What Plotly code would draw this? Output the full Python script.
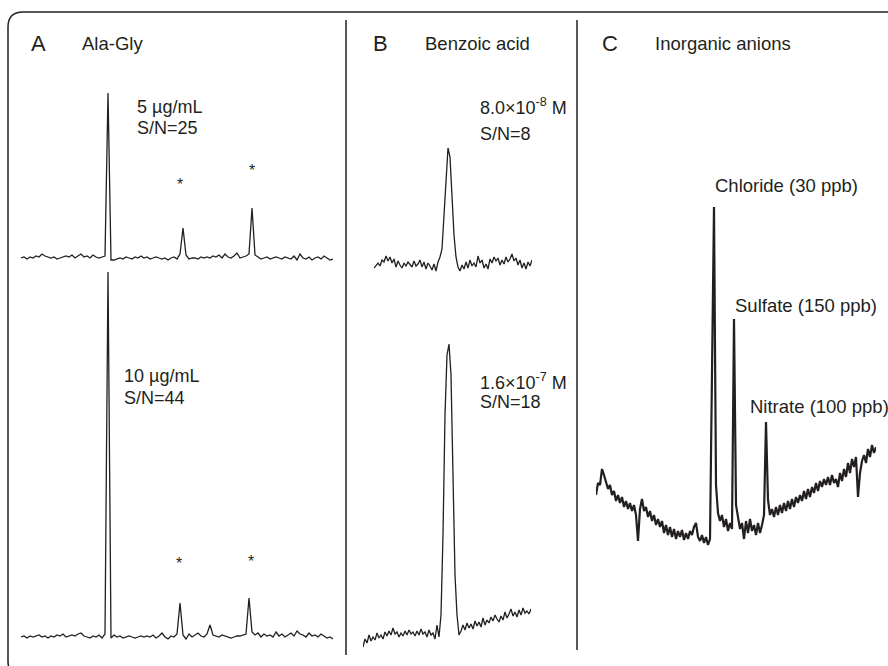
import plotly.graph_objects as go

# ---------------- data (signal heights above baseline, arbitrary units) ----------------
ala_gly_5 = [
    0, 1, -1, 1, 0, 2, 1, 4, 2, 1,
    0, 1, -1, 0, 1, 2, 1, 3, 0, 2,
    4, 1, 2, 0, 3, 1, 0, 1, 2, 165,
    -2, -2, -1, 0, -1, 1, 0, -1, 1, 0,
    2, 0, 1, -1, 0, 1, 0, -1, 0, -2,
    0, 1, -1, 4, 30, 3, -1, 0, 0, -1,
    1, 0, 1, 0, 2, 1, 3, 0, 4, 1,
    0, 2, 5, 0, 1, 2, 4, 50, 3, 1,
    -1, 0, 1, -1, 0, 1, 0, -1, 1, 0,
    -1, 2, -2, 4, 0, -1, 1, -2, 0, 1,
    -1, 2, 0, -2, -1,
]
ala_gly_10 = [
    0, 1, -1, 1, 0, 1, 2, 0, 1, -1,
    1, 0, 2, 1, 3, 0, 1, 2, 1, 3,
    4, 1, 0, -1, 1, 0, 2, -1, 3, 365,
    -1, 2, 0, 1, -1, 0, 1, 0, -1, 0,
    1, 0, 1, 0, 2, -1, 1, 4, 0, -2,
    1, 0, 3, 34, 2, -2, 3, 0, 2, 4,
    1, 0, 3, 12, 2, 1, 0, 2, 1, 0,
    -1, 0, 1, 1, 2, 3, 39, 5, 2, 4,
    0, 3, 1, 2, 0, 5, 1, 3, 0, 2,
    4, 1, 6, 3, 2, 0, 4, 1, 2, 0,
    3, 1, -1, 0, -2,
]
benzoic_8e8 = [
    -3, 0, 2, -1, 5, 3, 9, 4, 8, 2,
    6, -2, 4, 0, -3, 2, -1, 3, 0, -2,
    4, -1, 1, 5, -2, 3, -4, 2, -1, -5,
    1, -6, 3, 8, 16, 48, 92, 117, 108, 68,
    30, 8, -2, -6, 0, -4, 3, -3, 5, -1,
    2, -2, 9, 2, 5, -3, 1, -4, 6, 2,
    8, 4, 7, 0, 5, 1, 8, 3, 6, 11,
    4, 7, 0, 5, -3, 2, -4, 3, -1, 5,
]
benzoic_16e7 = [
    -2, 6, 2, 10, 4, 8, 5, 12, 7, 10,
    6, 13, 9, 14, 10, 17, 11, 13, 8, 12,
    9, 14, 10, 15, 11, 13, 9, 14, 10, 16,
    11, 13, 8, 15, 10, 12, 6, 20, 8, 30,
    110, 230, 290, 301, 270, 170, 70, 30, 10, 14,
    20, 15, 22, 17, 21, 16, 24, 19, 23, 18,
    27, 20, 25, 22, 28, 24, 30, 26, 23, 29,
    25, 33, 27, 31, 36, 29, 33, 28, 35, 30,
    37, 32, 34, 31, 36,
]
anions = [
    50, 62, 60, 76, 70, 64, 56, 60, 50, 54,
    44, 50, 42, 48, 38, 44, 36, 42, 34, 40,
    30, 4, 36, 46, 34, 38, 28, 34, 24, 30,
    20, 26, 18, 24, 12, 20, 10, 18, 8, 16,
    6, 14, 8, 15, 5, 12, 6, 14, 10, 18,
    22, 8, 4, 10, 2, 8, 0, 6, 200, 338,
    60, 32, 24, 30, 18, 26, 14, 22, 16, 226,
    40, 28, 16, 22, 6, 24, 12, 26, 14, 20,
    10, 22, 12, 20, 30, 123, 45, 30, 36, 28,
    38, 30, 40, 32, 42, 34, 44, 36, 46, 38,
    48, 42, 50, 44, 54, 46, 56, 48, 58, 52,
    62, 54, 64, 58, 66, 60, 68, 60, 70, 62,
    66, 58, 72, 64, 76, 68, 82, 72, 86, 78,
    88, 48, 72, 84, 90, 82, 96, 88, 100, 92,
    98,
]

panel_letters = ["A", "B", "C"]
panel_titles = ["Ala-Gly", "Benzoic acid", "Inorganic anions"]
trace_labels = [["5 µg/mL", "S/N=25"], ["10 µg/mL", "S/N=44"],
                ["8.0×10<sup>-8</sup> M", "S/N=8"], ["1.6×10<sup>-7</sup> M", "S/N=18"]]
anion_labels = ["Chloride (30 ppb)", "Sulfate (150 ppb)", "Nitrate (100 ppb)"]

# ---------------- layout helpers (pixel geometry) ----------------
W, H = 888, 666
INK = "#231f20"
FONT = "Liberation Sans, Arial, sans-serif"


def px(x):
    return x / W


def py(y):
    return 1 - y / H


series = [ala_gly_5, ala_gly_10, benzoic_8e8, benzoic_16e7, anions]
# (x_left, x_right, y_top, y_bottom, baseline) in pixels
geom = [
    (21, 333, 80, 275, 258),
    (21, 333, 262, 660, 637),
    (374, 532, 130, 290, 265),
    (363, 531, 330, 660, 645),
    (596, 876, 190, 560, 545),
]
widths = [1.3, 1.3, 1.3, 1.3, 2.2]

fig = go.Figure()
layout = dict(
    width=W, height=H, margin=dict(l=0, r=0, t=0, b=0),
    paper_bgcolor="white", plot_bgcolor="rgba(0,0,0,0)",
    showlegend=False,
)
for k, (ys, g) in enumerate(zip(series, geom)):
    n = k + 1
    xs = list(range(len(ys)))
    xa = "x" if n == 1 else f"x{n}"
    ya = "y" if n == 1 else f"y{n}"
    fig.add_trace(go.Scatter(x=xs, y=ys, mode="lines", xaxis=xa, yaxis=ya,
                             line=dict(color=INK, width=widths[k]), hoverinfo="skip"))
    x0, x1, yt, yb, base = g
    layout["xaxis" if n == 1 else f"xaxis{n}"] = dict(
        domain=[px(x0), px(x1)], range=[0, len(ys) - 1], visible=False,
        anchor=ya, fixedrange=True)
    layout["yaxis" if n == 1 else f"yaxis{n}"] = dict(
        domain=[py(yb), py(yt)], range=[base - yb, base - yt], visible=False,
        anchor=xa, fixedrange=True)
fig.update_layout(**layout)

ann = []


def text(t, x, y, size, xanchor="left", color=INK):
    ann.append(dict(text=t, x=px(x), y=py(y), xref="paper", yref="paper",
                    xanchor=xanchor, yanchor="middle", showarrow=False,
                    font=dict(family=FONT, size=size, color=color)))


# panel headers
for lab, cx in zip(panel_letters, [38, 380, 610]):
    text(lab, cx, 43, 22, "center")
for t, lx in zip(panel_titles, [80, 423, 653]):
    text(t, lx, 43, 18.5)

# trace labels
label_pos = [(135, 107, 128), (122, 376, 398), (478, 107, 134), (478, 381, 402)]
for (l1, l2), (lx, y1, y2) in zip(trace_labels, label_pos):
    text(l1, lx, y1, 18)
    text(l2, lx, y2, 18)

# anion labels
for t, (lx, ly) in zip(anion_labels, [(713, 185), (733, 305), (748, 406)]):
    text(t, lx, ly, 18.5)

# asterisks for impurity peaks
for ax_, ay_ in [(180, 184), (252, 170), (179, 563), (251, 561)]:
    text("*", ax_, ay_, 16, "center", INK)

fig.update_layout(annotations=ann)

# frame (rounded, clipped by the page) and panel dividers
r = 15
L, T, R, B = 8, 12, 903, 676
path = (f"M {px(L)},{py(B - r)} L {px(L)},{py(T + r)} Q {px(L)},{py(T)} {px(L + r)},{py(T)} "
        f"L {px(R - r)},{py(T)} Q {px(R)},{py(T)} {px(R)},{py(T + r)} "
        f"L {px(R)},{py(B - r)} Q {px(R)},{py(B)} {px(R - r)},{py(B)} "
        f"L {px(L + r)},{py(B)} Q {px(L)},{py(B)} {px(L)},{py(B - r)} Z")
shapes = [dict(type="path", path=path, xref="paper", yref="paper",
               line=dict(color=INK, width=1.5))]
for dx, y0, y1 in [(346, 20, 655), (577, 20, 650)]:
    shapes.append(dict(type="line", xref="paper", yref="paper",
                       x0=px(dx), x1=px(dx), y0=py(y0), y1=py(y1),
                       line=dict(color=INK, width=1.5)))
fig.update_layout(shapes=shapes)

fig.write_html("out.html")
